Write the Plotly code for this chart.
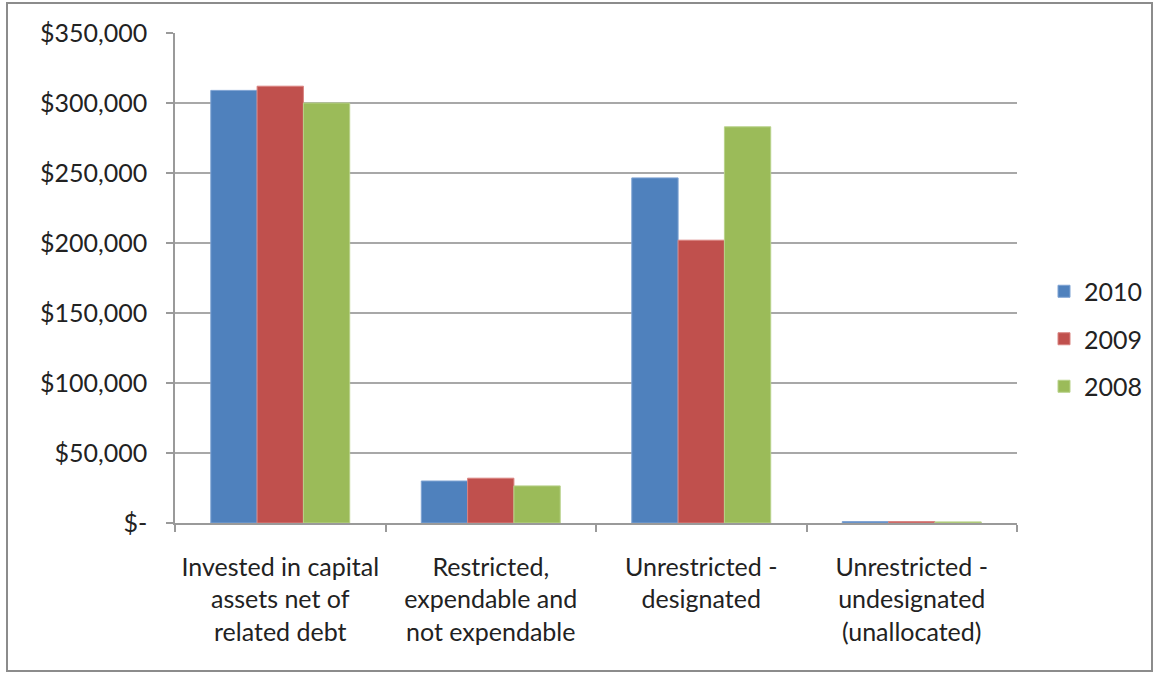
import plotly.graph_objects as go

categories = [
    "Invested in capital<br>assets net of<br>related debt",
    "Restricted,<br>expendable and<br>not expendable",
    "Unrestricted -<br>designated",
    "Unrestricted -<br>undesignated<br>(unallocated)",
]
series_names = ["2010", "2009", "2008"]
values_2010 = [309000, 30000, 246500, 1000]
values_2009 = [312000, 32000, 202000, 1000]
values_2008 = [300000, 26500, 283000, 800]
colors = ["#4F81BD", "#C0504D", "#9BBB59"]
line_colors = ["#7FA3D3", "#D98380", "#B8D28A"]
y_tickvals = [0, 50000, 100000, 150000, 200000, 250000, 300000, 350000]
y_ticktext = ["$-", "$50,000", "$100,000", "$150,000", "$200,000", "$250,000", "$300,000", "$350,000"]

FONT = "Lato, Open Sans, sans-serif"
FS = 25

fig = go.Figure()
for i, (name, vals) in enumerate(zip(series_names, [values_2010, values_2009, values_2008])):
    fig.add_trace(go.Bar(
        x=categories, y=vals, name=name,
        marker=dict(color=colors[i], line=dict(color=line_colors[i], width=1)),
        legendgroup=name,
    ))

L, R, T, B = 175, 142, 33, 153
W, H = 1159, 676
pw, ph = W - L - R, H - T - B

def px_x(x):
    return (x - L) / pw

def px_y(y):
    return (H - B - y) / ph

fig.update_layout(
    width=W, height=H,
    margin=dict(l=L, r=R, t=T, b=B, autoexpand=False),
    paper_bgcolor="white", plot_bgcolor="white",
    barmode="group", bargap=0.34, bargroupgap=0,
    font=dict(family=FONT, size=FS, color="#222222"),
    legend=dict(x=px_x(1044), y=px_y(339), xanchor="left", yanchor="middle",
                font=dict(family=FONT, size=FS, color="#222222"),
                tracegroupgap=12, bgcolor="rgba(0,0,0,0)"),
    showlegend=True,
    xaxis=dict(
        type="category", categoryorder="array", categoryarray=categories,
        showline=True, linecolor="#9a9a9a", linewidth=1.5,
        ticks="outside", ticklen=7, tickcolor="#9a9a9a", tickwidth=1.5,
        tickson="boundaries", showgrid=False, zeroline=False,
        tickfont=dict(family=FONT, size=FS, color="#222222"),
        ticklabelstandoff=21,
    ),
    yaxis=dict(
        range=[0, 350000], tickmode="array", tickvals=y_tickvals, ticktext=y_ticktext,
        showline=True, linecolor="#9a9a9a", linewidth=1.5,
        ticks="outside", ticklen=7, tickcolor="#9a9a9a", tickwidth=1.5,
        showgrid=True, gridcolor="#a8a8a8", gridwidth=1.5, zeroline=False,
        tickfont=dict(family=FONT, size=FS, color="#222222"),
        ticklabelstandoff=14,
    ),
    shapes=[dict(type="rect", xref="paper", yref="paper",
                 x0=px_x(7), x1=px_x(1152), y0=px_y(671), y1=px_y(3),
                 line=dict(color="#8c8c8c", width=2), fillcolor="rgba(0,0,0,0)",
                 layer="below")],
)

fig.write_html("out.html")
